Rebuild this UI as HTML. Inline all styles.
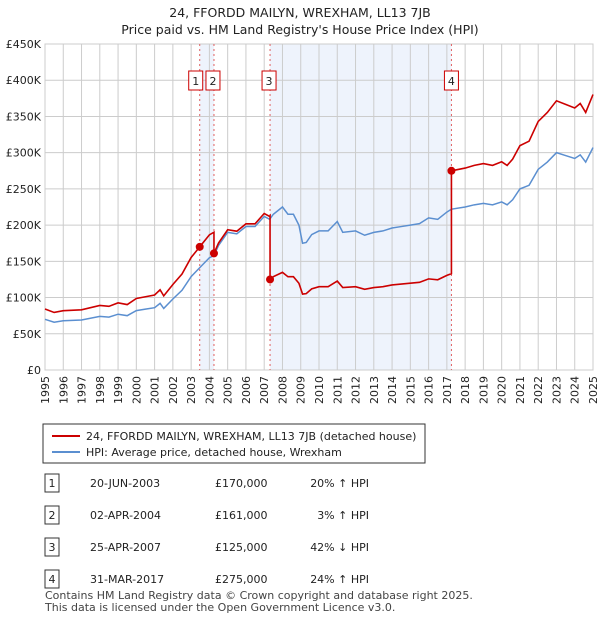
<!DOCTYPE html>
<html><head><meta charset="utf-8"><style>
body{margin:0;background:#fff;font-family:"Liberation Sans","DejaVu Sans",sans-serif;}
svg text{font-family:"DejaVu Sans","Liberation Sans",sans-serif;}
</style></head><body>
<svg id="c" width="600" height="620" xmlns="http://www.w3.org/2000/svg">
<text x="300" y="17" text-anchor="middle" font-size="12.5" fill="#222">24, FFORDD MAILYN, WREXHAM, LL13 7JB</text>
<text x="300" y="34" text-anchor="middle" font-size="12.5" fill="#222">Price paid vs. HM Land Registry's House Price Index (HPI)</text>
<g id="plot"></g>
<rect x="43" y="424" width="382" height="39" fill="#fff" stroke="#333"/>
<line x1="52" y1="436" x2="80" y2="436" stroke="#cc0000" stroke-width="2"/>
<text x="86" y="440" font-size="11" fill="#222">24, FFORDD MAILYN, WREXHAM, LL13 7JB (detached house)</text>
<line x1="52" y1="452" x2="80" y2="452" stroke="#5b8fd0" stroke-width="2"/>
<text x="86" y="456" font-size="11" fill="#222">HPI: Average price, detached house, Wrexham</text>
<g id="tbl" font-size="11" fill="#222"></g>
<text x="45" y="599" font-size="11" fill="#444">Contains HM Land Registry data © Crown copyright and database right 2025.</text>
<text x="45" y="611" font-size="11" fill="#444">This data is licensed under the Open Government Licence v3.0.</text>
</svg>
<script>
const hpiYears=[1995,1995.5,1996,1997,1998,1998.5,1999,1999.5,2000,2000.5,2001,2001.3,2001.5,2002,2002.5,2003,2003.5,2004,2004.25,2004.5,2005,2005.5,2006,2006.5,2007,2007.3,2007.5,2008,2008.3,2008.6,2008.9,2009.1,2009.3,2009.6,2010,2010.5,2011,2011.3,2012,2012.5,2013,2013.5,2014,2014.5,2015,2015.5,2016,2016.5,2017,2017.25,2018,2018.5,2019,2019.5,2020,2020.3,2020.6,2021,2021.5,2022,2022.5,2023,2023.5,2024,2024.3,2024.6,2025];
const hpiValues=[70,66,68,69,74,73,77,75,82,84,86,92,85,98,110,129,142,155,158,172,190,188,198,198,212,208,215,225,215,215,200,175,176,187,192,192,205,190,192,186,190,192,196,198,200,202,210,208,218,222,225,228,230,228,232,228,235,250,255,277,287,300,296,292,297,287,307];
const saleDates=[2003.47,2004.25,2007.32,2017.25];
const saleLabels=["20-JUN-2003","02-APR-2004","25-APR-2007","31-MAR-2017"];
const salePrices=[170,161,125,275];
const saleHpiText=["20% ↑ HPI","3% ↑ HPI","42% ↓ HPI","24% ↑ HPI"];
const yTicks=[0,50,100,150,200,250,300,350,400,450];
const yTickLabels=["£0","£50K","£100K","£150K","£200K","£250K","£300K","£350K","£400K","£450K"];

const X0=45,X1=593,Y0=370,Y1=44;
const xs=y=>X0+(y-1995)/30*(X1-X0);
const ys=v=>Y0-v/450*(Y0-Y1);
const NS="http://www.w3.org/2000/svg";
const plot=document.getElementById('plot');
function mk(tag,attrs,parent){const e=document.createElementNS(NS,tag);for(const k in attrs)e.setAttribute(k,attrs[k]);(parent||plot).appendChild(e);return e;}
function hpiAt(t){for(let i=0;i<hpiYears.length-1;i++){if(t>=hpiYears[i]&&t<=hpiYears[i+1]){const f=(t-hpiYears[i])/(hpiYears[i+1]-hpiYears[i]);return hpiValues[i]+f*(hpiValues[i+1]-hpiValues[i]);}}return hpiValues[hpiValues.length-1];}

// shading
let s1=mk('rect',{x:xs(saleDates[0]),y:Y1,width:xs(saleDates[1])-xs(saleDates[0]),height:Y0-Y1,fill:'#eef3fc'});


let s2=mk('rect',{x:xs(saleDates[2]),y:Y1,width:xs(saleDates[3])-xs(saleDates[2]),height:Y0-Y1,fill:'#eef3fc'});



// grid
for(let i=0;i<yTicks.length;i++){
  const y=ys(yTicks[i]);
  const g=mk('line',{x1:X0,x2:X1,y1:y,y2:y,stroke:'#cccccc','stroke-width':1});
  
  
  const t=mk('text',{x:X0-4,y:y+4,'text-anchor':'end','font-size':11,fill:'#222'});
  
  
  t.textContent=yTickLabels[i];
}
for(let yr=1995;yr<=2025;yr++){
  const x=xs(yr);
  const g=mk('line',{x1:x,x2:x,y1:Y1,y2:Y0,stroke:'#cccccc','stroke-width':1});
  
  
  const t=mk('text',{x:0,y:0,'text-anchor':'end','font-size':11,fill:'#222',transform:`translate(${x+4},376) rotate(-90)`});
  
  
  t.textContent=yr;
}
const bd=mk('rect',{x:X0,y:Y1,width:X1-X0,height:Y0-Y1,fill:'none',stroke:'#cccccc'});



// sale dashed lines
saleDates.forEach((d,i)=>{
  const l=mk('line',{x1:xs(d),x2:xs(d),y1:Y1,y2:Y0,stroke:'#e06060','stroke-dasharray':'2,3','stroke-width':1});
  
  
});

// HPI line
const hp=mk('polyline',{points:hpiYears.map((y,i)=>xs(y)+','+ys(hpiValues[i])).join(' '),fill:'none',stroke:'#5b8fd0','stroke-width':1.5});



// property line: HPI scaled by ratio at most recent sale
const ratios=saleDates.map((d,i)=>salePrices[i]/hpiAt(d));
function ratioAt(t){let r=ratios[0];for(let i=0;i<saleDates.length;i++)if(t>=saleDates[i])r=ratios[i];return r;}
let pts=[];
const times=hpiYears.slice();
saleDates.forEach(d=>times.push(d));
times.sort((a,b)=>a-b);
times.forEach(t=>{
  const h=hpiAt(t);
  const si=saleDates.indexOf(t);
  if(si>0){pts.push([t,h*ratios[si-1]]);}
  pts.push([t,h*ratioAt(t)]);
});
const pl=mk('polyline',{points:pts.map(p=>xs(p[0])+','+ys(p[1])).join(' '),fill:'none',stroke:'#cc0000','stroke-width':1.6});



// sale points & labels
saleDates.forEach((d,i)=>{
  const c=mk('circle',{cx:xs(d),cy:ys(salePrices[i]),r:4,fill:'#cc0000'});
  
  
  const off=[-4,-1,-1,0][i];
  const bx=xs(d)+off-7;
  const r=mk('rect',{x:bx,y:71,width:14,height:19,fill:'#fff',stroke:'#cc0000'});
  
  
  const t=mk('text',{x:bx+7,y:85,'text-anchor':'middle','font-size':11,fill:'#222'});
  
  
  t.textContent=i+1;
});

// table
const tbl=document.getElementById('tbl');
saleDates.forEach((d,i)=>{
  const y=486+i*32;
  const r=mk('rect',{x:45,y:y-12,width:14,height:18,fill:'#fff',stroke:'#333'},tbl);
  
  
  const n=mk('text',{x:52,y:y+1,'text-anchor':'middle'},tbl);
  
  
  n.textContent=i+1;
  const a=mk('text',{x:90,y:y+1},tbl);
  
  
  a.textContent=saleLabels[i];
  const p=mk('text',{x:215,y:y+1},tbl);
  
  
  p.textContent='£'+salePrices[i]+',000';
  const h=mk('text',{x:369,y:y+1,'text-anchor':'end'},tbl);
  
  
  h.textContent=saleHpiText[i];
});
</script>
</body></html>
